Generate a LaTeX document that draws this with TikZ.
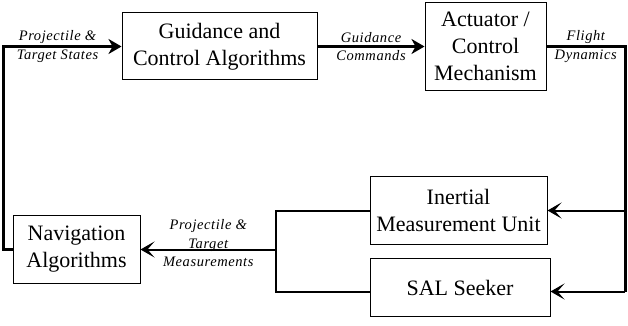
\documentclass[tikz,border=0pt]{standalone}
\usepackage{fontspec}
\setmainfont{Liberation Serif}
\newfontfamily\sigfont[LetterSpace=4]{Liberation Serif}
\usetikzlibrary{arrows.meta, positioning}

\begin{document}
\begin{tikzpicture}[
    x=1pt, y=-1pt,
    blk/.style = {rectangle, draw, line width=1pt, align=center, inner sep=2pt, font=\fontsize{22}{27}\selectfont},
    sig/.style = {align=center, inner sep=1pt, font=\sigfont\itshape\fontsize{14.5}{18.5}\selectfont},
    bus/.style = {draw, line width=3pt},
    fwd/.style = {bus, -{Stealth[length=13pt, width=15pt, inset=4pt]}},
    feed/.style = {draw, line width=2pt},
    back/.style = {feed, -{Stealth[length=14pt, width=16pt, inset=7pt]}}
]
    \useasboundingbox (0,0) rectangle (628,326);

    \node [blk, minimum width=195pt, minimum height=67pt] (guid) at (219.5,46.5) {Guidance and\\Control Algorithms};
    \node [blk, minimum width=121pt, minimum height=88pt, right=107pt of guid] (act) {Actuator /\\Control\\Mechanism};
    \node [blk, minimum width=177pt, minimum height=68pt] (imu) at (458.5,210.5) {Inertial\\Measurement Unit};
    \node [blk, minimum width=180pt, minimum height=58pt, below=13pt of imu, xshift=1.5pt] (sal) {SAL Seeker};
    \node [blk, minimum width=127pt, minimum height=68pt] (nav) at (76.5,249.5) {Navigation\\Algorithms};

    \coordinate (lc) at (3,46.5);
    \coordinate (rc) at (625,46.5);
    \coordinate (mid) at (276,249.5);
    \coordinate (salin) at ([yshift=-4pt]sal.east);
    \coordinate (salout) at ([yshift=-4pt]sal.west);

    \draw [fwd] (nav.west) -| (lc) -- node [sig, pos=0.46] {Projectile \&\\Target States} (guid.west);
    \draw [fwd] (guid) -- node [sig] {Guidance\\Commands} (act);
    \draw [bus] (act.east) -- node [sig] {Flight\\Dynamics} (rc) -- (rc |- salin);
    \draw [back] (rc |- imu.east) -- (imu.east);
    \draw [back] (rc |- salin) -- (salin);

    \draw [feed] (imu.west) -| (mid) |- (salout);
    \draw [back] (mid) -- node [sig, yshift=6pt] {Projectile \&\\Target\\Measurements} (nav.east);
\end{tikzpicture}
\end{document}
